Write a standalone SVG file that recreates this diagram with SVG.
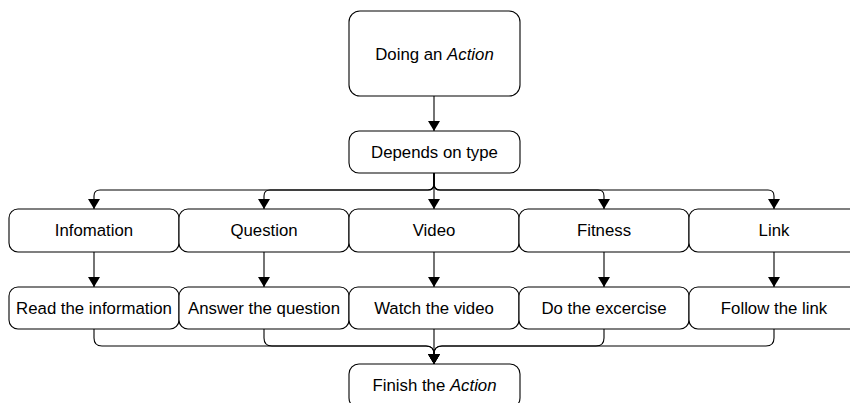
<svg xmlns="http://www.w3.org/2000/svg" width="850" height="403" viewBox="0 0 850 403">
  <defs>
    <marker id="arrow" viewBox="0 0 10 12" refX="10" refY="6" markerWidth="10" markerHeight="12" markerUnits="userSpaceOnUse" orient="auto">
      <path d="M0,0 L10,6 L0,12 Z" fill="#000"/>
    </marker>
  </defs>
  <style>
    .box { fill: #fff; stroke: #000; stroke-width: 1.1; }
    .lbl { font-family: "Liberation Sans", Arial, sans-serif; font-size: 16.8px; fill: #000; text-anchor: middle; }
    .edge { fill: none; stroke: #000; stroke-width: 1.1; }
    .arr { marker-end: url(#arrow); }
  </style>
  <rect width="850" height="403" fill="#fff"/>

  <!-- connectors -->
  <g id="connectors">
    <path class="edge arr" d="M434,96 V131"/>
    <!-- fan-out to the five types -->
    <path class="edge arr" d="M434,173 V184 Q434,190 428,190 H100 Q94,190 94,196 V209"/>
    <path class="edge arr" d="M434,173 V184 Q434,190 428,190 H270 Q264,190 264,196 V209"/>
    <path class="edge arr" d="M434,173 V209"/>
    <path class="edge arr" d="M434,173 V184 Q434,190 440,190 H598 Q604,190 604,196 V209"/>
    <path class="edge arr" d="M434,173 V184 Q434,190 440,190 H768 Q774,190 774,196 V209"/>
    <!-- type to task -->
    <path class="edge arr" d="M94,252 V287"/>
    <path class="edge arr" d="M264,252 V287"/>
    <path class="edge arr" d="M434,252 V287"/>
    <path class="edge arr" d="M604,252 V287"/>
    <path class="edge arr" d="M774,252 V287"/>
    <!-- fan-in to finish -->
    <path class="edge arr" d="M94,329 V338 Q94,346 102,346 H426 Q434,346 434,354 V364"/>
    <path class="edge arr" d="M264,329 V338 Q264,346 272,346 H426 Q434,346 434,354 V364"/>
    <path class="edge arr" d="M434,329 V364"/>
    <path class="edge arr" d="M604,329 V338 Q604,346 596,346 H442 Q434,346 434,354 V364"/>
    <path class="edge arr" d="M774,329 V338 Q774,346 766,346 H442 Q434,346 434,354 V364"/>
  </g>

  <g id="doing-action">
    <rect class="box" x="349" y="11" width="171" height="85" rx="11"/>
    <text class="lbl" x="434.5" y="59.5">Doing an <tspan font-style="italic">Action</tspan></text>
  </g>
  <g id="depends-on-type">
    <rect class="box" x="349" y="131" width="171" height="42" rx="10"/>
    <text class="lbl" x="434.5" y="158">Depends on type</text>
  </g>

  <g id="type-information">
    <rect class="box" x="9" y="209" width="170" height="43" rx="9"/>
    <text class="lbl" x="94" y="236">Infomation</text>
  </g>
  <g id="type-question">
    <rect class="box" x="179" y="209" width="170" height="43" rx="9"/>
    <text class="lbl" x="264" y="236">Question</text>
  </g>
  <g id="type-video">
    <rect class="box" x="349" y="209" width="170" height="43" rx="9"/>
    <text class="lbl" x="434" y="236">Video</text>
  </g>
  <g id="type-fitness">
    <rect class="box" x="519" y="209" width="170" height="43" rx="9"/>
    <text class="lbl" x="604" y="236">Fitness</text>
  </g>
  <g id="type-link">
    <rect class="box" x="689" y="209" width="170" height="43" rx="9"/>
    <text class="lbl" x="774" y="236">Link</text>
  </g>

  <g id="task-read">
    <rect class="box" x="9" y="287" width="170" height="42" rx="9"/>
    <text class="lbl" x="94" y="314">Read the information</text>
  </g>
  <g id="task-answer">
    <rect class="box" x="179" y="287" width="170" height="42" rx="9"/>
    <text class="lbl" x="264" y="314">Answer the question</text>
  </g>
  <g id="task-watch">
    <rect class="box" x="349" y="287" width="170" height="42" rx="9"/>
    <text class="lbl" x="434" y="314">Watch the video</text>
  </g>
  <g id="task-exercise">
    <rect class="box" x="519" y="287" width="170" height="42" rx="9"/>
    <text class="lbl" x="604" y="314">Do the excercise</text>
  </g>
  <g id="task-follow">
    <rect class="box" x="689" y="287" width="170" height="42" rx="9"/>
    <text class="lbl" x="774" y="314">Follow the link</text>
  </g>

  <g id="finish-action">
    <rect class="box" x="349" y="364" width="171" height="44" rx="10"/>
    <text class="lbl" x="434.5" y="391">Finish the <tspan font-style="italic">Action</tspan></text>
  </g>
</svg>
